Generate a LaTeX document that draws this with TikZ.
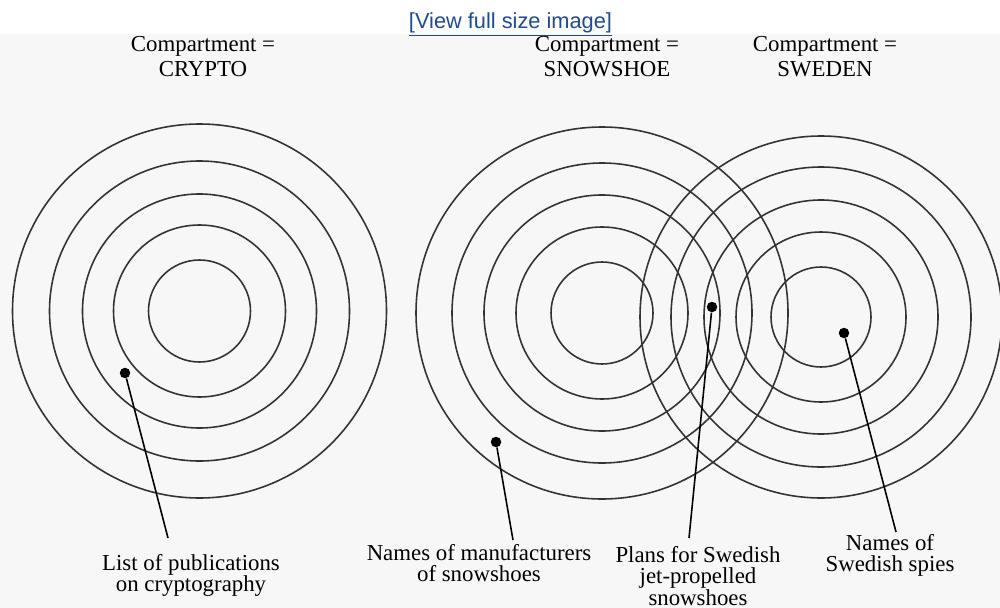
\documentclass[tikz,border=0pt]{standalone}
\usepackage{fontspec}
\setmainfont{Liberation Serif}
\newfontfamily\linkfont{Liberation Sans}
\usepackage{xcolor}
\usepackage{tikz}

\definecolor{linkblue}{RGB}{28,74,160}

\begin{document}
\begin{tikzpicture}[
					x=0.02cm, y=-0.02cm,
					font=\fontsize{13}{12.2}\selectfont,
					ring/.style={draw=black!80, line width=0.9pt},
					spot/.style={
						circle, fill=black,
						inner sep=0pt, minimum size=0.21cm
					},
					lead/.style={line width=0.9pt, black},
					heading/.style={
						align=center, inner sep=0pt, anchor=north,
						font=\fontsize{13}{14.2}\selectfont
					},
					note/.style={align=center, inner sep=0pt, anchor=north},
					link/.style={
						font=\linkfont\fontsize{12.4}{14}\selectfont,
						text=linkblue, inner sep=0pt, anchor=base
					}
					]
					\clip (0,0) rectangle (1000,608);
					\fill[black!3] (0,34) rectangle (1000,608);
					
					\node[link] (view) at (510.5,28.5) {\underline{[View full size image]}};
					
					%% ─── COMPARTMENT HEADINGS ───────────────────────────────────────────────
					\node[heading] (hcrypto) at (203,36.5) {Compartment =\\CRYPTO};
					\node[heading] (hsnow)   at (607,36.5) {Compartment =\\SNOWSHOE};
					\node[heading] (hswe)    at (825,36.5) {Compartment =\\SWEDEN};
					
					%% ─── RINGS (five levels per compartment) ────────────────────────────────
					\coordinate (crypto) at (199.5,311);
					\coordinate (snow)   at (602,313);
					\coordinate (swe)    at (821,317);
					
					\draw[ring] (crypto) circle[radius=51];  \draw[ring] (crypto) circle[radius=86];
					\draw[ring] (crypto) circle[radius=117]; \draw[ring] (crypto) circle[radius=150];
					\draw[ring] (crypto) circle[radius=187];
					
					\draw[ring] (snow) circle[radius=51];  \draw[ring] (snow) circle[radius=86];
					\draw[ring] (snow) circle[radius=118]; \draw[ring] (snow) circle[radius=150];
					\draw[ring] (snow) circle[radius=186];
					
					\draw[ring] (swe) circle[radius=50];  \draw[ring] (swe) circle[radius=85];
					\draw[ring] (swe) circle[radius=117]; \draw[ring] (swe) circle[radius=150];
					\draw[ring] (swe) circle[radius=181];
					
					%% ─── OBJECTS AND THEIR LABELS ───────────────────────────────────────────
					\node[spot] (pubs)  at (125,373) {};
					\node[spot] (makers) at (496,442) {};
					\node[spot] (plans) at (712,307) {};
					\node[spot] (spies) at (844,333) {};
					
					\node[note] (lpubs)   at (191,554) {List of publications\\on cryptography};
					\node[note] (lmakers) at (479,544) {Names of manufacturers\\of snowshoes};
					\node[note] (lplans)  at (698,546) {Plans for Swedish\\jet-propelled\\snowshoes};
					\node[note] (lspies)  at (890,534) {Names of\\Swedish spies};
					
					\draw[lead] (pubs)   -- ([shift={(-0.46cm,0.32cm)}]lpubs.north);
					\draw[lead] (makers) -- ([shift={(0.68cm,0.08cm)}]lmakers.north);
					\draw[lead] (plans)  -- ([shift={(-0.18cm,0.16cm)}]lplans.north);
					\draw[lead] (spies)  -- ([shift={(0.12cm,0.04cm)}]lspies.north);
				\end{tikzpicture}
\end{document}
